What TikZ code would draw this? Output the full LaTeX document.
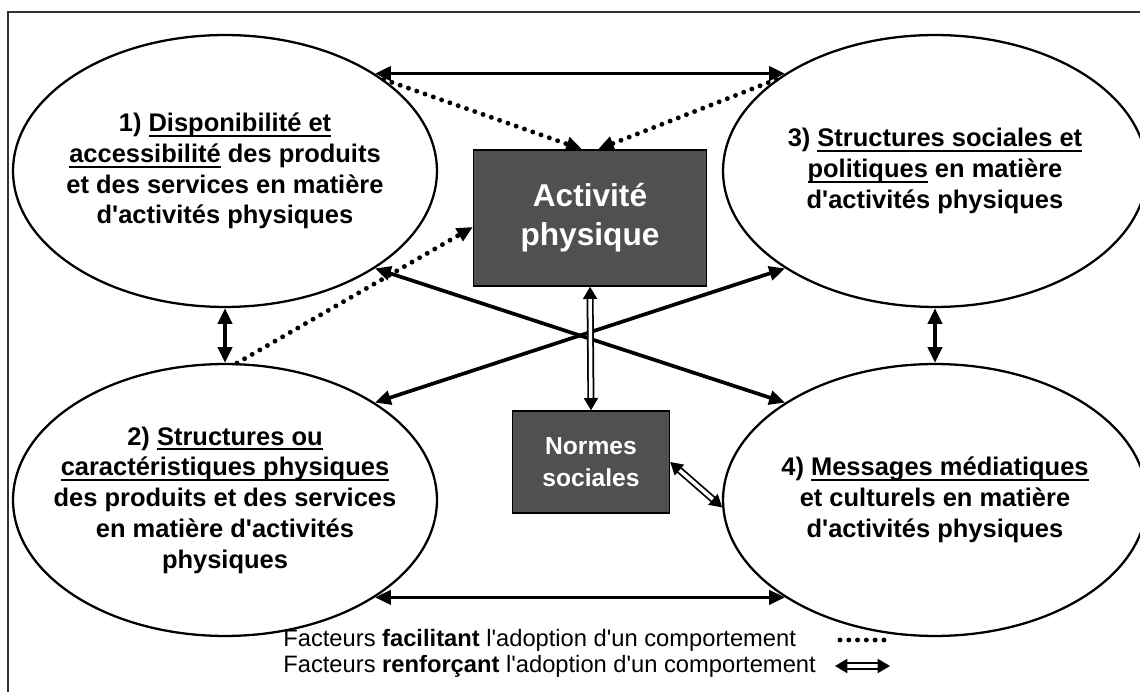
\documentclass[tikz,border=0pt]{standalone}
\usepackage{fontspec}
\setmainfont{Liberation Sans}
\usepackage{tikz}
\usetikzlibrary{arrows.meta, shapes.geometric}
\definecolor{boxgray}{RGB}{80,80,80}
\newcommand{\souligne}[1]{\setbox0\hbox{#1}\rlap{\rule[-3pt]{\wd0}{1.1pt}}\box0\relax}
\newcommand{\apo}{\textquotesingle}

\begin{document}
\begin{tikzpicture}[
    x=0.02cm, y=-0.02cm,
    facteur/.style={ellipse, draw, line width=1.3pt, minimum width=8.48cm, minimum height=5.44cm, inner sep=0pt},
    facteurtext/.style={align=center, font=\fontsize{14.5}{17.5}\selectfont\bfseries},
    bloc/.style={draw, line width=0.8pt, fill=boxgray, text=white, align=center},
    lien/.style={{Triangle[length=9pt,width=8pt]}-{Triangle[length=9pt,width=8pt]}, line width=2.1pt},
    facilite/.style={-{Triangle[length=9pt,width=8pt]}, line width=2.8pt, line cap=round, dash pattern=on 0pt off 5pt},
    renforce/.style={{Triangle[length=7pt,width=8pt]}-{Triangle[length=7pt,width=8pt]}, double, double distance=2pt, line width=1pt},
    legende/.style={anchor=west, font=\fontsize{13.5}{15}\selectfont, inner sep=0pt}
]
\useasboundingbox (0,0) rectangle (1140,692);

% Cadre
\draw[line width=0.8pt, black!80] (8,692) -- (8,12) -- (1140,12);

% Facteurs
\node[facteur] (e1) at (225,171) {};
\node[facteur] (e3) at (935,171) {};
\node[facteur] (e2) at (225,500) {};
\node[facteur] (e4) at (935,500) {};

\node[facteurtext] (t1) at (e1) {1) \souligne{Disponibilité et}\\ \souligne{accessibilité} des produits\\ et des services en matière\\ d\apo activités physiques};
\node[facteurtext] (t3) at (e3) {3) \souligne{Structures sociales et}\\ \souligne{politiques} en matière\\ d\apo activités physiques};
\node[facteurtext] (t2) at (e2) {2) \souligne{Structures ou}\\ \souligne{caractéristiques physiques}\\ des produits et des services\\ en matière d\apo activités\\ physiques};
\node[facteurtext] (t4) at (e4) {4) \souligne{Messages médiatiques}\\ et culturels en matière\\ d\apo activités physiques};

% Blocs centraux
\node[bloc, minimum width=4.66cm, minimum height=2.72cm, font=\fontsize{18}{22}\selectfont\bfseries] (ap) at (590,218) {Activité\\ physique};
\node[bloc, minimum width=3.14cm, minimum height=2.04cm, font=\fontsize{14}{18}\selectfont\bfseries] (ns) at (591,462) {Normes\\ sociales};

% Liens entre facteurs
\draw[lien] (e1.33) -- (e3.147);
\draw[lien] (e2.-33) -- (e4.-147);
\draw[lien] (e1.south) -- (e2.north);
\draw[lien] (e3.south) -- (e4.north);
\draw[lien] (e1.-33) -- (e4.147);
\draw[lien] (e2.33) -- (e3.-147);

% Facteurs facilitant
\draw[facilite] (e1.30) -- ([xshift=-0.16cm]ap.north);
\draw[facilite] (e3.150) -- ([xshift=0.16cm]ap.north);
\draw[facilite] (e2.85) -- ([yshift=-0.18cm]ap.west);

% Facteurs renforcant
\draw[renforce] (ap.south) -- (ns.north);
\draw[renforce] (ns.east) -- (e4.182);

% Legende
\node[legende] (lg1) at (283,640) {Facteurs \textbf{facilitant} l\apo adoption d\apo un comportement};
\node[legende] (lg2) at (283,666) {Facteurs \textbf{renforçant} l\apo adoption d\apo un comportement};
\coordinate (df1) at (840,640);
\coordinate (df2) at (890,640);
\coordinate (dr1) at (835,666);
\coordinate (dr2) at (890,666);
\draw[facilite, -] (df1) -- (df2);
\draw[renforce] (dr1) -- (dr2);

\end{tikzpicture}
\end{document}
